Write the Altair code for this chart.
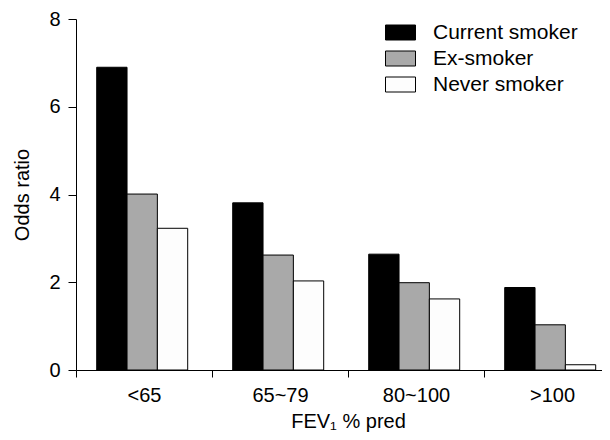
import altair as alt
import pandas as pd

categories = ["<65", "65~79", "80~100", ">100"]
groups = ["Current smoker", "Ex-smoker", "Never smoker"]
current = [6.90, 3.81, 2.64, 1.88]
ex_smoker = [4.01, 2.62, 1.99, 1.03]
never = [3.23, 2.03, 1.62, 0.12]
colors = ["#000000", "#a9a9a9", "#fdfdfd"]
y_ticks = [0, 2, 4, 6, 8]

rows = []
for g, vals in zip(groups, [current, ex_smoker, never]):
    for c, v in zip(categories, vals):
        rows.append({"fev": c, "group": g, "or": v})
df = pd.DataFrame(rows)

FONT = "Liberation Sans"

chart = alt.Chart(df).mark_bar(stroke="black", strokeWidth=1, opacity=1).encode(
    x=alt.X(
        "fev:N",
        sort=categories,
        scale=alt.Scale(range=[0, 544], paddingInner=0, paddingOuter=0),
        axis=alt.Axis(
            title="FEV₁ % pred",
            labelAngle=0,
            tickBand="extent",
            tickSize=7,
            labelPadding=8,
            titlePadding=6,
            titleX=272,
        ),
    ),
    xOffset=alt.XOffset(
        "group:N",
        sort=groups,
        scale=alt.Scale(paddingInner=0, paddingOuter=0.742, align=0.46),
    ),
    y=alt.Y(
        "or:Q",
        scale=alt.Scale(domain=[0, 8], nice=False),
        axis=alt.Axis(title="Odds ratio", values=y_ticks, tickSize=8, labelPadding=8, titlePadding=16),
    ),
    fill=alt.Fill(
        "group:N",
        sort=groups,
        scale=alt.Scale(domain=groups, range=colors),
        legend=alt.Legend(
            title=None,
            orient="none",
            legendX=309,
            legendY=-2,
            padding=0,
            labelOffset=17,
            rowPadding=-7,
            symbolType="M-1,-0.5H1V0.5H-1Z",
            symbolSize=900,
            symbolStrokeColor="black",
            symbolStrokeWidth=1,
            symbolOpacity=1,
            labelFontSize=21,
            labelFont=FONT,
            labelColor="black",
        ),
    ),
).properties(
    width=526,
    height=351,
    autosize=alt.AutoSizeParams(type="none"),
    padding={"left": 68, "top": 11, "right": 0, "bottom": 62},
).configure_view(stroke=None).configure_axis(
    grid=False,
    domainColor="black",
    tickColor="black",
    labelColor="black",
    titleColor="black",
    labelFont=FONT,
    titleFont=FONT,
    labelFontSize=20,
    titleFontSize=20,
    titleFontWeight="normal",
    domainWidth=1,
    tickWidth=1,
)

chart.save("out.html", embed_options={"renderer": "svg", "actions": False})
